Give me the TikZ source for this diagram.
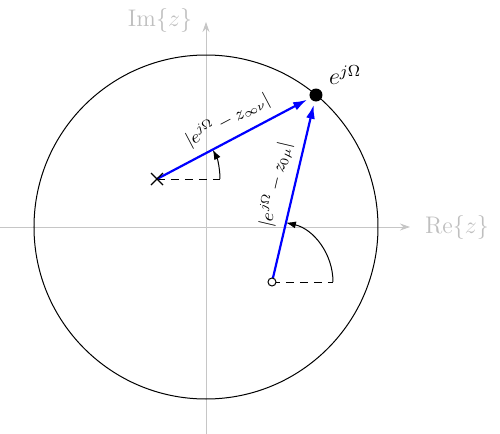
\documentclass[tikz,border=0pt]{standalone}
\usetikzlibrary{arrows.meta}
\begin{document}
\begin{tikzpicture}[x=0.5pt,y=-0.5pt,
  axis/.style={draw=gray!45,line width=0.4pt,-{Stealth[length=5pt,width=3.5pt]}},
  axlabel/.style={text=gray!50,font=\large},
  vec/.style={draw=blue,line width=1.1pt,-{Latex[length=7pt,width=4.5pt]}},
  anglearc/.style={draw=black,line width=0.5pt,-{Latex[length=5pt,width=3.5pt]}},
  refline/.style={draw=black,dash pattern=on 4pt off 3pt,line width=0.5pt},
  veclabel/.style={font=\small,sloped,above,midway,inner sep=4pt}]
\useasboundingbox (0,0) rectangle (500,434);
% axes
\coordinate (xl) at (0,227);
\coordinate (xr) at (410,227);
\coordinate (yb) at (206,434);
\coordinate (yt) at (206,22);
\draw[axis] (xl) -- (xr);
\draw[axis] (yb) -- (yt);
\node[axlabel,anchor=west] (re) at (418,227) {$\mathrm{Re}\{z\}$};
\node[axlabel] (im) at (160,20) {$\mathrm{Im}\{z\}$};
% unit circle
\coordinate (o) at (206,227);
\draw[line width=0.5pt] (o) ellipse [x radius=172, y radius=172];
% points
\coordinate (e) at (316,95);
\coordinate (p) at (157,179);
\coordinate (z) at (272,282);
\coordinate (pd) at (220,179);
\coordinate (zd) at (333,282);
% dashed refs
\draw[refline] (p) -- (pd);
\draw[refline] (z) -- (zd);
% angle arcs
\draw[anglearc] (pd) arc[start angle=0,end angle=-27.8,radius=63];
\draw[anglearc] (zd) arc[start angle=0,end angle=-76.8,radius=61];
% vectors
\draw[vec,shorten >=5pt] (p) -- (e) node[veclabel] {$|e^{j\Omega}-z_{\infty\nu}|$};
\draw[vec,shorten >=5pt,shorten <=2pt] (z) -- (e) node[veclabel] {$|e^{j\Omega}-z_{0\mu}|$};
% markers
\node[circle,fill=black,inner sep=0pt,minimum size=6.5pt] (ep) at (e) {};
\node[circle,draw=black,fill=white,inner sep=0pt,minimum size=4pt,line width=0.5pt] (zp) at (z) {};
\draw[line width=0.6pt] (p) +(-6,-6) -- +(6,6);
\draw[line width=0.6pt] (p) +(-6,6) -- +(6,-6);
\node[font=\large,anchor=south west] (el) at (322,92) {$e^{j\Omega}$};
\end{tikzpicture}
\end{document}
